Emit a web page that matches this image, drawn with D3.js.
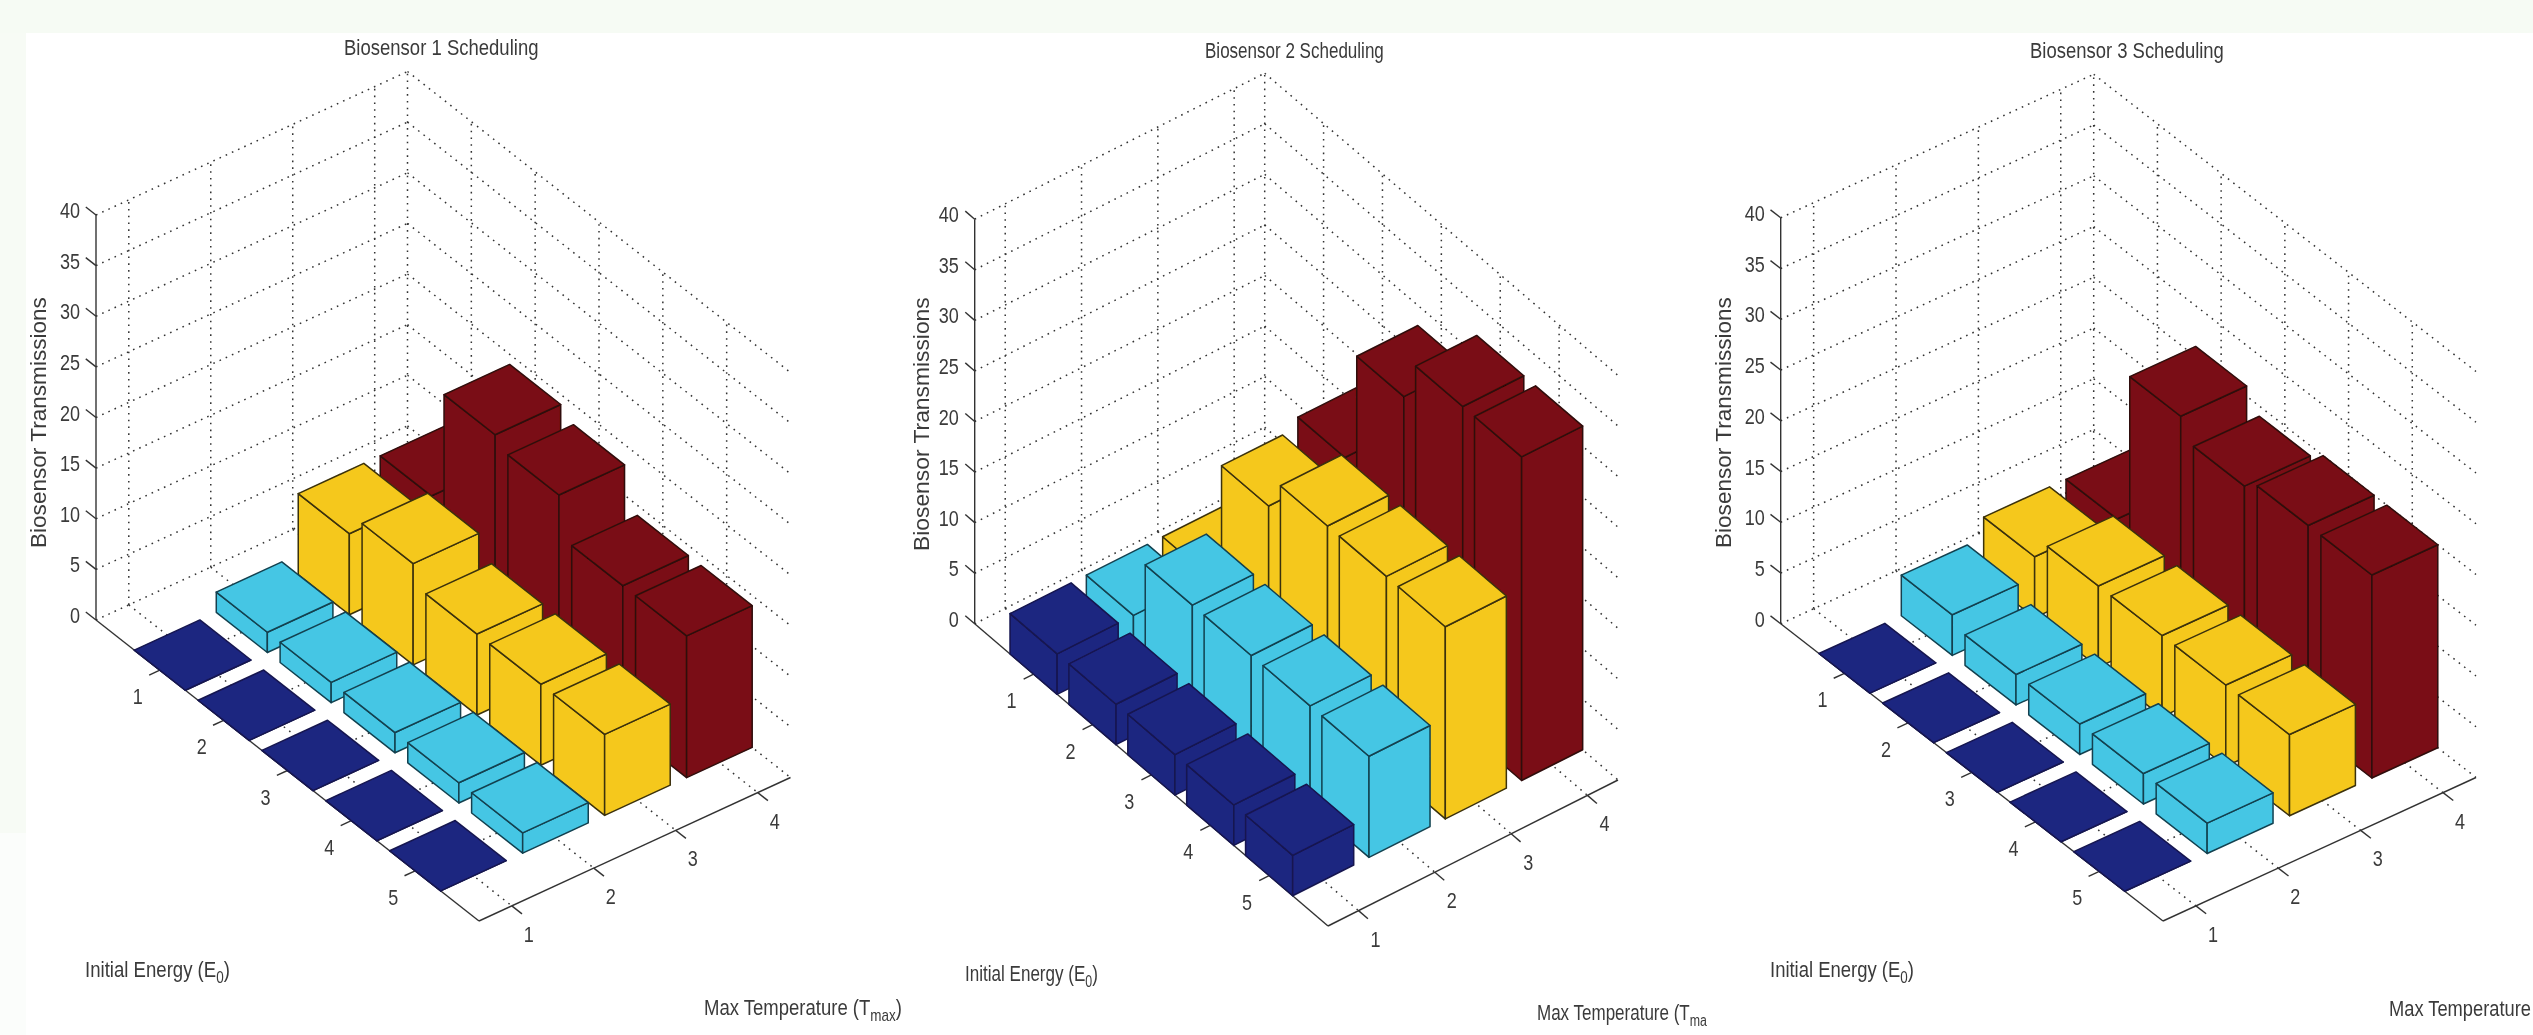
<!DOCTYPE html>
<html><head><meta charset="utf-8">
<style>
html,body{margin:0;padding:0;background:#fff;overflow:hidden}
svg{display:block}
text{font-family:"Liberation Sans",Arial,sans-serif;fill:#3a3a3a}
</style>
<script src="https://cdn.jsdelivr.net/npm/d3@7/dist/d3.min.js"></script>
</head><body>
<svg id="chart" width="2533" height="1035"></svg>
<script>
// ---- data ----
const energyLevels = [1, 2, 3, 4, 5];
const temperatureLevels = [1, 2, 3, 4];
const heightTicks = [0, 5, 10, 15, 20, 25, 30, 35, 40];
const seriesColors = ["#1f2580", "#44c6e4", "#f5c81e", "#7a1012"];
const edgeColors = ["#14164f", "#12414f", "#3a3008", "#2e0808"];

// one row per max temperature, one value per initial energy
const sensor1T1 = [0, 0, 0, 0, 0];
const sensor1T2 = [2, 2, 2, 2, 2];
const sensor1T3 = [8, 10, 8, 8, 8];
const sensor1T4 = [8, 19, 18, 14, 14];

const sensor2T1 = [4, 4, 4, 4, 4];
const sensor2T2 = [4, 10, 10, 10, 10];
const sensor2T3 = [4, 16, 19, 19, 19];
const sensor2T4 = [4, 17, 28, 32, 32];

const sensor3T1 = [0, 0, 0, 0, 0];
const sensor3T2 = [4, 3, 3, 3, 3];
const sensor3T3 = [6, 8, 8, 8, 8];
const sensor3T4 = [6, 21, 19, 20, 20];

const titles = ["Biosensor 1 Scheduling", "Biosensor 2 Scheduling", "Biosensor 3 Scheduling"];

// ---- layout ----
const layouts = [
  {values:[sensor1T1,sensor1T2,sensor1T3,sensor1T4], L:[96,620], F:[479,921], R:[790.5,777.5], zPx:405,
   title:[344,55,194.5], yLab:[46,548,251], eLab:[85,977,145], tLab:[704,1015,198], tParts:["Max Temperature (T","max",")"]},
  {values:[sensor2T1,sensor2T2,sensor2T3,sensor2T4], L:[974.7,623.8], F:[1328,926], R:[1618,780], zPx:404.6,
   title:[1205,58,179], yLab:[929,551,254], eLab:[965,981,133], tLab:[1537,1020,170], tParts:["Max Temperature (T","ma",""]},
  {values:[sensor3T1,sensor3T2,sensor3T3,sensor3T4], L:[1780.7,623.8], F:[2163,921], R:[2476,777.5], zPx:406,
   title:[2030,58,194], yLab:[1731,548,251], eLab:[1770,977,144], tLab:[2389,1016,142], tParts:["Max Temperature","",""]}
];

const svg = d3.select("#chart");
svg.append("filter").attr("id","soft").attr("x",0).attr("y",0).attr("width",1).attr("height",1)
  .attr("filterUnits","objectBoundingBox")
  .append("feGaussianBlur").attr("stdDeviation",0.55);
svg.append("rect").attr("x",0).attr("y",0).attr("width",2533).attr("height",33).attr("fill","#f6fbf4");
svg.append("rect").attr("x",0).attr("y",33).attr("width",26).attr("height",800).attr("fill","#f7fbf5");
svg.append("rect").attr("x",0).attr("y",833).attr("width",26).attr("height",202).attr("fill","#fbfdfb");

const barHalf = 0.4, xLo = 0.6, xHi = 4.4, yLo = 0, yHi = 6, zHi = 40;
const pathOf = d3.line();

function fitText(g, x, y, width, size, build, rotate){
  const t = g.append("text").attr("font-size", size);
  build(t);
  const w = t.node().getComputedTextLength();
  const sx = width / w;
  t.attr("transform", `translate(${x},${y})` + (rotate ? " rotate(-90)" : "") + ` scale(${sx},1)`);
  return t;
}
function subLabel(t, a, b, c){
  t.append("tspan").text(a);
  if (b) t.append("tspan").attr("font-size", 16).attr("dy", 6).text(b);
  if (c) t.append("tspan").attr("dy", -6).text(c);
}

layouts.forEach((p, idx) => {
  const g = svg.append("g").attr("filter","url(#soft)");
  const [Lx,Ly] = p.L, [Fx,Fy] = p.F, [Rx,Ry] = p.R;
  // oblique projection built from three linear scales
  const xProj = d3.scaleLinear().domain([xLo,xHi]);
  const xPx = xProj.copy().range([0,Rx-Fx]), xPy = xProj.copy().range([0,Ry-Fy]);
  const yProj = d3.scaleLinear().domain([yLo,yHi]);
  const yPx = yProj.copy().range([0,Fx-Lx]), yPy = yProj.copy().range([0,Fy-Ly]);
  const zPy = d3.scaleLinear().domain([0,zHi]).range([0,-p.zPx]);
  const proj = (x,y,z) => [Lx + xPx(x) + yPx(y), Ly + xPy(x) + yPy(y) + zPy(z)];

  // dotted grid
  const grid = [];
  heightTicks.forEach(z => {
    grid.push([proj(xLo,yLo,z), proj(xHi,yLo,z)]);
    grid.push([proj(xHi,yLo,z), proj(xHi,yHi,z)]);
  });
  temperatureLevels.forEach(x => {
    grid.push([proj(x,yLo,0), proj(x,yLo,zHi)]);
    grid.push([proj(x,yLo,0), proj(x,yHi,0)]);
  });
  energyLevels.forEach(y => {
    grid.push([proj(xHi,y,0), proj(xHi,y,zHi)]);
    grid.push([proj(xLo,y,0), proj(xHi,y,0)]);
  });
  grid.push([proj(xHi,yLo,0), proj(xHi,yLo,zHi)]);
  g.append("g").selectAll("path").data(grid).join("path")
    .attr("d", pathOf).attr("fill","none").attr("stroke","#333")
    .attr("stroke-width",1.5).attr("stroke-dasharray","1.6 5.2");

  // solid axes
  const axes = [
    [proj(xLo,yLo,0), proj(xLo,yLo,zHi)],
    [proj(xLo,yLo,0), proj(xLo,yHi,0)],
    [proj(xLo,yHi,0), proj(xHi,yHi,0)]
  ];
  const tickLen = 0.16;
  heightTicks.forEach(z => axes.push([proj(xLo,yLo,z), proj(xLo,yLo-tickLen,z)]));
  energyLevels.forEach(y => axes.push([proj(xLo,y,0), proj(xLo-0.13,y,0)]));
  temperatureLevels.forEach(x => axes.push([proj(x,yHi,0), proj(x,yHi+tickLen,0)]));
  g.append("g").selectAll("path").data(axes).join("path")
    .attr("d", pathOf).attr("fill","none").attr("stroke","#333").attr("stroke-width",1.4);

  // bars, painted back to front
  const faces = [];
  temperatureLevels.slice().reverse().forEach(t => {
    energyLevels.forEach((e, ei) => {
      const v = p.values[t-1][ei];
      const x0=t-barHalf, x1=t+barHalf, y0=e-barHalf, y1=e+barHalf;
      const c = seriesColors[t-1], s = edgeColors[t-1];
      faces.push({c,s,pts:[proj(x0,y0,0),proj(x0,y1,0),proj(x0,y1,v),proj(x0,y0,v)]});
      faces.push({c,s,pts:[proj(x0,y1,0),proj(x1,y1,0),proj(x1,y1,v),proj(x0,y1,v)]});
      faces.push({c,s,pts:[proj(x0,y0,v),proj(x0,y1,v),proj(x1,y1,v),proj(x1,y0,v)]});
    });
  });
  g.append("g").selectAll("path").data(faces).join("path")
    .attr("d", d => pathOf(d.pts) + "Z")
    .attr("fill", d => d.c).attr("stroke", d => d.s)
    .attr("stroke-width",1.5).attr("stroke-linejoin","round");

  // tick labels
  const digit = (txt, x, y, anchor) => g.append("text").attr("font-size",22)
    .attr("text-anchor",anchor).attr("transform",`translate(${x},${y}) scale(0.82,1)`).text(txt);
  heightTicks.forEach(z => { const q = proj(xLo,yLo,z); digit(z, q[0]-16, q[1]+3, "end"); });
  energyLevels.forEach(e => { const q = proj(xLo,e,0); digit(e, q[0]-22, q[1]+34, "middle"); });
  temperatureLevels.forEach(t => { const q = proj(t,yHi,0); digit(t, q[0]+17, q[1]+36, "middle"); });

  // titles and axis labels
  fitText(g, p.title[0], p.title[1], p.title[2], 22, t => t.text(titles[idx]));
  fitText(g, p.yLab[0], p.yLab[1], p.yLab[2], 22, t => t.text("Biosensor Transmissions"), true);
  fitText(g, p.eLab[0], p.eLab[1], p.eLab[2], 22, t => subLabel(t,"Initial Energy (E","0",")"));
  fitText(g, p.tLab[0], p.tLab[1], p.tLab[2], 22, t => subLabel(t,p.tParts[0],p.tParts[1],p.tParts[2]));
});
</script>
</body></html>
